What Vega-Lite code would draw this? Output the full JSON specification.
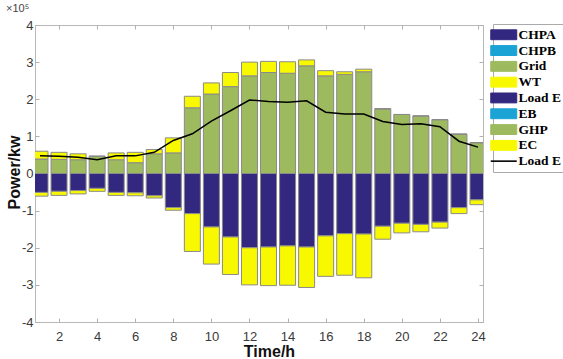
{
  "$schema": "https://vega.github.io/schema/vega-lite/v6.json",
  "width": 448,
  "height": 297,
  "autosize": {"type": "none"},
  "padding": {"left": 35, "top": 25, "right": 80, "bottom": 37},
  "background": "white",
  "title": {"text": "×10⁵", "anchor": "start", "offset": 5, "fontSize": 11, "fontWeight": "normal", "font": "Liberation Sans", "color": "#444"},
  "config": {
    "view": {"stroke": "#b8b8b8", "strokeWidth": 1},
    "axis": {"grid": false, "domain": false, "tickColor": "#b0b0b0", "labelFont": "Liberation Sans", "labelFontSize": 13, "labelColor": "#3a3a3a", "titleFont": "Liberation Sans", "titleFontSize": 16, "titleFontWeight": "bold", "titleColor": "#111"},
    "legend": {"strokeColor": "#aaaaaa", "fillColor": "white"}
  },
  "datasets": {
    "bars": [
      {"hour": 1, "series": "Grid", "value": 39000}, {"hour": 1, "series": "WT", "value": 21000}, {"hour": 1, "series": "Load E", "value": -51000}, {"hour": 1, "series": "EC", "value": -10000},
      {"hour": 2, "series": "Grid", "value": 38000}, {"hour": 2, "series": "WT", "value": 19000}, {"hour": 2, "series": "Load E", "value": -48000}, {"hour": 2, "series": "EC", "value": -11000},
      {"hour": 3, "series": "Grid", "value": 37000}, {"hour": 3, "series": "WT", "value": 16000}, {"hour": 3, "series": "Load E", "value": -46000}, {"hour": 3, "series": "EC", "value": -9000},
      {"hour": 4, "series": "Grid", "value": 46500}, {"hour": 4, "series": "WT", "value": 0}, {"hour": 4, "series": "Load E", "value": -40000}, {"hour": 4, "series": "EC", "value": -8000},
      {"hour": 5, "series": "Grid", "value": 37000}, {"hour": 5, "series": "WT", "value": 18500}, {"hour": 5, "series": "Load E", "value": -51000}, {"hour": 5, "series": "EC", "value": -8000},
      {"hour": 6, "series": "Grid", "value": 29000}, {"hour": 6, "series": "WT", "value": 28000}, {"hour": 6, "series": "Load E", "value": -52000}, {"hour": 6, "series": "EC", "value": -8000},
      {"hour": 7, "series": "Grid", "value": 53000}, {"hour": 7, "series": "WT", "value": 11500}, {"hour": 7, "series": "Load E", "value": -60000}, {"hour": 7, "series": "EC", "value": -6000},
      {"hour": 8, "series": "Grid", "value": 55500}, {"hour": 8, "series": "WT", "value": 40500}, {"hour": 8, "series": "Load E", "value": -92000}, {"hour": 8, "series": "EC", "value": -7000},
      {"hour": 9, "series": "Grid", "value": 177000}, {"hour": 9, "series": "WT", "value": 31000}, {"hour": 9, "series": "Load E", "value": -108000}, {"hour": 9, "series": "EC", "value": -102000},
      {"hour": 10, "series": "Grid", "value": 214000}, {"hour": 10, "series": "WT", "value": 30000}, {"hour": 10, "series": "Load E", "value": -144000}, {"hour": 10, "series": "EC", "value": -100000},
      {"hour": 11, "series": "Grid", "value": 234000}, {"hour": 11, "series": "WT", "value": 38000}, {"hour": 11, "series": "Load E", "value": -171000}, {"hour": 11, "series": "EC", "value": -101000},
      {"hour": 12, "series": "Grid", "value": 263000}, {"hour": 12, "series": "WT", "value": 37000}, {"hour": 12, "series": "Load E", "value": -200000}, {"hour": 12, "series": "EC", "value": -100000},
      {"hour": 13, "series": "Grid", "value": 272000}, {"hour": 13, "series": "WT", "value": 30000}, {"hour": 13, "series": "Load E", "value": -198000}, {"hour": 13, "series": "EC", "value": -104000},
      {"hour": 14, "series": "Grid", "value": 270000}, {"hour": 14, "series": "WT", "value": 31000}, {"hour": 14, "series": "Load E", "value": -195000}, {"hour": 14, "series": "EC", "value": -106000},
      {"hour": 15, "series": "Grid", "value": 290000}, {"hour": 15, "series": "WT", "value": 16000}, {"hour": 15, "series": "Load E", "value": -198000}, {"hour": 15, "series": "EC", "value": -109000},
      {"hour": 16, "series": "Grid", "value": 263000}, {"hour": 16, "series": "WT", "value": 14000}, {"hour": 16, "series": "Load E", "value": -168000}, {"hour": 16, "series": "EC", "value": -109000},
      {"hour": 17, "series": "Grid", "value": 267000}, {"hour": 17, "series": "WT", "value": 7000}, {"hour": 17, "series": "Load E", "value": -162000}, {"hour": 17, "series": "EC", "value": -112000},
      {"hour": 18, "series": "Grid", "value": 274000}, {"hour": 18, "series": "WT", "value": 7000}, {"hour": 18, "series": "Load E", "value": -163000}, {"hour": 18, "series": "EC", "value": -118000},
      {"hour": 19, "series": "Grid", "value": 173000}, {"hour": 19, "series": "WT", "value": 2000}, {"hour": 19, "series": "Load E", "value": -142000}, {"hour": 19, "series": "EC", "value": -35000},
      {"hour": 20, "series": "Grid", "value": 159000}, {"hour": 20, "series": "WT", "value": 0}, {"hour": 20, "series": "Load E", "value": -134000}, {"hour": 20, "series": "EC", "value": -26000},
      {"hour": 21, "series": "Grid", "value": 155000}, {"hour": 21, "series": "WT", "value": 0}, {"hour": 21, "series": "Load E", "value": -137000}, {"hour": 21, "series": "EC", "value": -20000},
      {"hour": 22, "series": "Grid", "value": 145000}, {"hour": 22, "series": "WT", "value": 0}, {"hour": 22, "series": "Load E", "value": -131000}, {"hour": 22, "series": "EC", "value": -16000},
      {"hour": 23, "series": "Grid", "value": 106000}, {"hour": 23, "series": "WT", "value": 0}, {"hour": 23, "series": "Load E", "value": -92000}, {"hour": 23, "series": "EC", "value": -16000},
      {"hour": 24, "series": "Grid", "value": 83000}, {"hour": 24, "series": "WT", "value": 0}, {"hour": 24, "series": "Load E", "value": -71000}, {"hour": 24, "series": "EC", "value": -13000}
    ],
    "line": [
      {"hour": 1, "series": "Load E line", "value": 48000}, {"hour": 2, "series": "Load E line", "value": 46500},
      {"hour": 3, "series": "Load E line", "value": 44000}, {"hour": 4, "series": "Load E line", "value": 37000},
      {"hour": 5, "series": "Load E line", "value": 47500}, {"hour": 6, "series": "Load E line", "value": 47500},
      {"hour": 7, "series": "Load E line", "value": 57000}, {"hour": 8, "series": "Load E line", "value": 89000},
      {"hour": 9, "series": "Load E line", "value": 107000}, {"hour": 10, "series": "Load E line", "value": 141000},
      {"hour": 11, "series": "Load E line", "value": 169000}, {"hour": 12, "series": "Load E line", "value": 198000},
      {"hour": 13, "series": "Load E line", "value": 194000}, {"hour": 14, "series": "Load E line", "value": 192000},
      {"hour": 15, "series": "Load E line", "value": 196000}, {"hour": 16, "series": "Load E line", "value": 165000},
      {"hour": 17, "series": "Load E line", "value": 160000}, {"hour": 18, "series": "Load E line", "value": 160000},
      {"hour": 19, "series": "Load E line", "value": 140000}, {"hour": 20, "series": "Load E line", "value": 132000},
      {"hour": 21, "series": "Load E line", "value": 134000}, {"hour": 22, "series": "Load E line", "value": 126000},
      {"hour": 23, "series": "Load E line", "value": 87000}, {"hour": 24, "series": "Load E line", "value": 71000}
    ]
  },
  "layer": [
    {
      "data": {"name": "bars"},
      "transform": [{"calculate": "indexof(['CHPA','CHPB','Grid','WT','Load E','EB','GHP','EC'], datum.series)", "as": "ord"}],
      "mark": {"type": "bar", "size": 16, "clip": true, "stroke": "#8a8a8a", "strokeWidth": 1},
      "encoding": {
        "x": {"field": "hour", "type": "quantitative", "scale": {"domain": [1, 24], "nice": false, "zero": false},
          "axis": {"orient": "bottom", "values": [2,4,6,8,10,12,14,16,18,20,22,24], "tickSize": -4, "labelPadding": 12, "labelFlush": false, "title": "Time/h", "titleX": 234, "titleY": 34, "titleBaseline": "alphabetic", "titleAlign": "center", "titleAnchor": null}},
        "y": {"field": "value", "type": "quantitative", "stack": "zero", "scale": {"domain": [-400000, 400000], "nice": false},
          "axis": {"orient": "left", "values": [-400000,-300000,-200000,-100000,0,100000,200000,300000,400000], "labelExpr": "'' + (datum.value / 100000)", "tickSize": -4, "labelPadding": 6, "labelFlush": false, "title": "Power/kw", "titleX": -21, "titleY": 147, "titleAngle": -90, "titleAlign": "center", "titleBaseline": "middle", "titleAnchor": null}},
        "color": {"field": "series", "type": "nominal",
          "scale": {"domain": ["CHPA","CHPB","Grid","WT","Load E","EB","GHP","EC","Load E line"], "range": ["#33287f","#1ba3d6","#9dbb5e","#f8f800","#33287f","#1ba3d6","#9dbb5e","#f8f800","#000000"]},
          "legend": {"title": null, "orient": "none", "legendX": 458, "legendY": -1, "padding": 4, "rowPadding": 0.8, "strokeColor": "#aaaaaa", "fillColor": "white",
            "labelFont": "Liberation Serif", "labelFontSize": 13.5, "labelFontWeight": "bold", "labelColor": "#000", "labelOffset": 8,
            "symbolSize": 676, "symbolType": "M-1,-0.38H1V0.38H-1Z", "symbolStrokeColor": "#999", "symbolStrokeWidth": 1, "symbolOpacity": 1,
            "labelExpr": "datum.label == 'Load E line' ? 'Load E' : datum.label",
            "encode": {
              "symbols": {"update": {
                "shape": {"signal": "datum.value == 'Load E line' ? 'M-1,0H1' : 'M-1,-0.38H1V0.38H-1Z'"},
                "stroke": {"signal": "datum.value == 'Load E line' ? '#000' : '#999'"},
                "strokeWidth": {"signal": "datum.value == 'Load E line' ? 1.6 : 1"}
              }}
            }}},
        "order": {"field": "ord", "type": "quantitative"}
      }
    },
    {
      "data": {"name": "line"},
      "mark": {"type": "line", "strokeWidth": 1.5, "clip": true},
      "encoding": {
        "x": {"field": "hour", "type": "quantitative",
          "axis": {"orient": "top", "values": [2,4,6,8,10,12,14,16,18,20,22,24], "tickSize": -4, "labels": false, "title": null}},
        "y": {"field": "value", "type": "quantitative",
          "axis": {"orient": "right", "values": [-400000,-300000,-200000,-100000,0,100000,200000,300000,400000], "tickSize": -4, "labels": false, "title": null}},
        "color": {"field": "series", "type": "nominal"}
      }
    }
  ],
  "resolve": {"axis": {"x": "independent", "y": "independent"}}
}
